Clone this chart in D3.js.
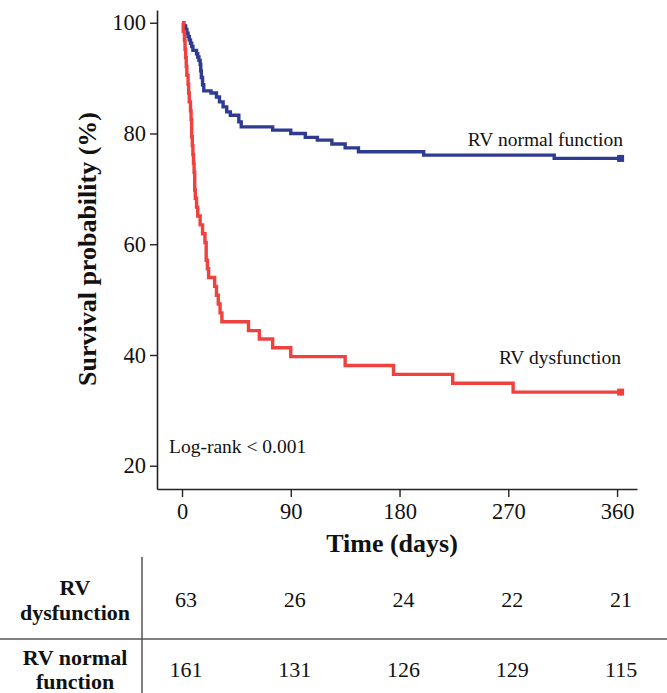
<!DOCTYPE html>
<html>
<head>
<meta charset="utf-8">
<script src="https://cdn.jsdelivr.net/npm/d3@7"></script>
<style>
  html, body { margin: 0; padding: 0; background: #fff; }
  svg { display: block; }
  text { font-family: "Liberation Serif", "Times New Roman", serif; fill: #111; }
</style>
</head>
<body>
<div id="chart"></div>
<script>
// ---- data ----
const xTicks = [0, 90, 180, 270, 360];
const yTicks = [20, 40, 60, 80, 100];

const blueTimes = [0, 1.5, 3, 4, 5, 6, 7, 8, 9, 12, 13, 14, 15, 15.5, 16, 17, 18, 24, 28.5, 31, 34, 37, 40, 47, 49, 75, 90, 102, 112, 124, 135, 146, 200, 308];
const blueSurv  = [100, 99.4, 98.8, 98.1, 97.5, 96.9, 96.3, 95.7, 95.0, 94.4, 93.8, 93.2, 92.5, 91.3, 90.1, 88.8, 87.7, 87.3, 86.6, 85.7, 84.8, 83.9, 83.3, 82.1, 81.2, 80.6, 80.0, 79.3, 78.8, 78.1, 77.4, 76.7, 76.1, 75.5];
const blueEnd = 365;

const redTimes = [0, 1, 2, 2.5, 3, 3.5, 4, 5, 5.5, 6, 7, 7.5, 8, 8.5, 9, 9.5, 10, 10.5, 11, 12, 13, 15, 17, 19, 20, 21, 22, 27, 28.5, 30, 31.5, 33, 55, 64, 75, 90, 135, 175, 224, 274];
const redSurv  = [100, 98.4, 96.8, 95.2, 93.7, 92.1, 90.5, 88.9, 87.3, 85.7, 84.1, 82.5, 79.4, 77.8, 76.2, 74.6, 73.0, 69.8, 68.3, 66.7, 65.1, 63.5, 61.9, 60.3, 57.1, 55.6, 54.0, 52.4, 50.8, 49.2, 47.6, 46.0, 44.4, 42.9, 41.3, 39.7, 38.1, 36.5, 34.9, 33.3];
const redEnd = 365;

const groupNames = ["RV normal function", "RV dysfunction"];
const tableRowLabels = [["RV", "dysfunction"], ["RV normal", "function"]];
const atRiskDys = [63, 26, 24, 22, 21];
const atRiskNormal = [161, 131, 126, 129, 115];
const annotation = "Log-rank < 0.001";

// ---- layout ----
const W = 667, H = 693;
const svg = d3.select("#chart").append("svg").attr("width", W).attr("height", H);

const x = d3.scaleLinear().domain([-20.7, 376.5]).range([157, 637]);
const y = d3.scaleLinear().domain([15.8, 102.3]).range([489, 10]);

const blue = "#2f3a93", red = "#f0413f";

// axes
const xAxis = d3.axisBottom(x).tickValues(xTicks).tickSizeOuter(0).tickSizeInner(8).tickPadding(7);
const yAxis = d3.axisLeft(y).tickValues(yTicks).tickSizeOuter(0).tickSizeInner(7).tickPadding(4);

const gx = svg.append("g").attr("transform", `translate(0,${y.range()[0]})`).call(xAxis);
const gy = svg.append("g").attr("transform", `translate(${x.range()[0]},0)`).call(yAxis);
[gx, gy].forEach(g => {
  g.select(".domain").attr("stroke", "#222").attr("stroke-width", 1.6);
  g.selectAll(".tick line").attr("stroke", "#222").attr("stroke-width", 1.4);
  g.selectAll(".tick text").style("font-family", "'Liberation Serif', serif").style("font-size", "22.5px").attr("fill", "#111");
});
gx.selectAll(".tick text").attr("dy", "0.68em");

// axis titles
svg.append("text")
  .attr("transform", `translate(96,249) rotate(-90)`)
  .attr("text-anchor", "middle")
  .style("font-size", "26px").style("font-weight", "bold")
  .text("Survival probability (%)");

svg.append("text")
  .attr("x", 392).attr("y", 552)
  .attr("text-anchor", "middle")
  .style("font-size", "26px").style("font-weight", "bold")
  .text("Time (days)");

// curves
function series(times, surv, end) {
  const pts = times.map((t, i) => [t, surv[i]]);
  pts.push([end, surv[surv.length - 1]]);
  return pts;
}
const line = d3.line().x(d => x(d[0])).y(d => y(d[1])).curve(d3.curveStepAfter);

const curves = [
  { pts: series(blueTimes, blueSurv, blueEnd), color: blue },
  { pts: series(redTimes, redSurv, redEnd), color: red }
];
curves.forEach(c => {
  svg.append("path").attr("d", line(c.pts)).attr("fill", "none")
    .attr("stroke", c.color).attr("stroke-width", 3.4).attr("stroke-linejoin", "miter");
  const last = c.pts[c.pts.length - 1];
  svg.append("rect").attr("x", x(last[0]) - 6).attr("y", y(last[1]) - 3.5)
    .attr("width", 7).attr("height", 7).attr("fill", c.color);
});

// curve labels
svg.append("text").attr("x", 623).attr("y", 146).attr("text-anchor", "end")
  .style("font-size", "19.5px").text(groupNames[0]);
svg.append("text").attr("x", 621).attr("y", 364).attr("text-anchor", "end")
  .style("font-size", "19.5px").text(groupNames[1]);

// annotation
svg.append("text").attr("x", 169).attr("y", 453).style("font-size", "19.5px").text(annotation);

// ---- number-at-risk table ----
svg.append("line").attr("x1", 142).attr("x2", 142).attr("y1", 557).attr("y2", H)
  .attr("stroke", "#555").attr("stroke-width", 1.5);
svg.append("line").attr("x1", 0).attr("x2", W).attr("y1", 639).attr("y2", 639)
  .attr("stroke", "#555").attr("stroke-width", 1.5);

const rowLabelBase = [[595, 620], [665, 689]];
tableRowLabels.forEach((lines, r) => {
  lines.forEach((s, k) => {
    svg.append("text").attr("x", 75).attr("y", rowLabelBase[r][k])
      .attr("text-anchor", "middle").style("font-size", "22px").style("font-weight", "bold")
      .text(s);
  });
});
const rowNumBase = [607, 677];
[atRiskDys, atRiskNormal].forEach((vals, r) => {
  svg.selectAll(null).data(vals).enter().append("text")
    .attr("x", (d, i) => x(xTicks[i]) + 4)
    .attr("y", rowNumBase[r])
    .attr("text-anchor", "middle").style("font-size", "22px")
    .text(d => d);
});
</script>
</body>
</html>
